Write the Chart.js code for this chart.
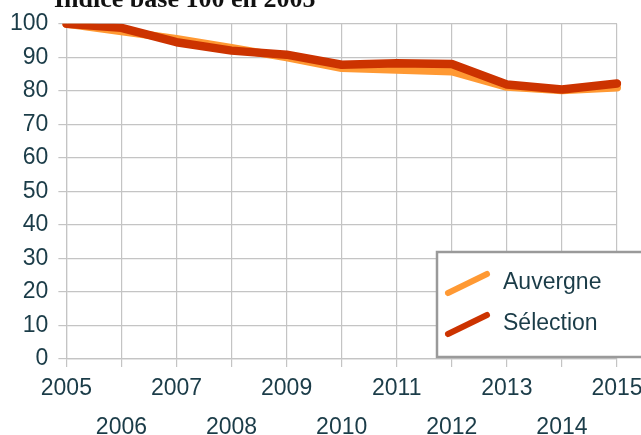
<!DOCTYPE html>
<html>
<head>
<meta charset="utf-8">
<script src="https://cdn.jsdelivr.net/npm/chart.js@4/dist/chart.umd.min.js"></script>
<style>
  html, body { margin: 0; padding: 0; background: #ffffff; }
  #wrap { width: 641px; height: 435px; position: relative; }
</style>
</head>
<body>
<div id="wrap"><canvas id="chart"></canvas></div>
<script>
// Chart text
const chartTitle = 'Indice base 100 en 2005';
const seriesNames = ['Auvergne', 'Sélection'];

// Years on the x axis
const years = ['2005', '2006', '2007', '2008', '2009', '2010', '2011', '2012', '2013', '2014', '2015'];

// Index values (base 100 in 2005)
const auvergne  = [100, 97.8, 95.5, 92.8, 90.0, 86.8, 86.3, 85.8, 81.2, 80.2, 81.0];
const selection = [100, 98.8, 94.5, 92.0, 90.8, 87.8, 88.2, 88.0, 81.9, 80.4, 82.2];

// Value axis range
const yMin = 0, yMax = 100, yStep = 10;

const colors = ['#ff9933', '#cc3300'];
const textColor = '#1b3c48';
const gridColor = '#c4c4c4';
const sansFont = "'Liberation Sans', Arial, sans-serif";

// Title drawn at the very top edge, partly clipped
const titlePlugin = {
  id: 'topTitle',
  afterDraw(chart) {
    const ctx = chart.ctx;
    ctx.save();
    ctx.font = "bold 26px 'Liberation Serif', 'Times New Roman', serif";
    ctx.fillStyle = '#111111';
    ctx.textAlign = 'left';
    ctx.textBaseline = 'alphabetic';
    ctx.fillText(chartTitle, 54, 7);
    ctx.restore();
  }
};

// Boxed legend with diagonal line samples in the lower right corner
const boxLegend = {
  id: 'boxLegend',
  afterDraw(chart) {
    const ctx = chart.ctx;
    const a = chart.chartArea;
    const left = a.right - 180, top = a.bottom - 107;
    ctx.save();
    ctx.fillStyle = '#ffffff';
    ctx.fillRect(left, top, 260, 105);
    ctx.strokeStyle = '#9a9a9a';
    ctx.lineWidth = 2.5;
    ctx.strokeRect(left, top, 260, 105);
    chart.data.datasets.forEach((ds, i) => {
      const cy = top + 31 + i * 41;
      ctx.strokeStyle = ds.borderColor;
      ctx.lineWidth = 6;
      ctx.lineCap = 'round';
      ctx.beginPath();
      ctx.moveTo(left + 11, cy + 10);
      ctx.lineTo(left + 50, cy - 9);
      ctx.stroke();
      ctx.fillStyle = textColor;
      ctx.font = '23px ' + sansFont;
      ctx.textAlign = 'left';
      ctx.textBaseline = 'middle';
      ctx.fillText(ds.label, left + 66, cy);
    });
    ctx.restore();
  }
};

new Chart(document.getElementById('chart'), {
  type: 'line',
  data: {
    labels: years,
    datasets: [
      { label: seriesNames[0], data: auvergne, borderColor: colors[0], backgroundColor: colors[0],
        borderWidth: 8, pointRadius: 0, tension: 0, borderJoinStyle: 'round', borderCapStyle: 'round', order: 2 },
      { label: seriesNames[1], data: selection, borderColor: colors[1], backgroundColor: colors[1],
        borderWidth: 8.5, pointRadius: 0, tension: 0, borderJoinStyle: 'round', borderCapStyle: 'round', order: 1 }
    ]
  },
  options: {
    responsive: true,
    maintainAspectRatio: false,
    animation: false,
    layout: { padding: { top: 11, right: 0, left: 0, bottom: 0 } },
    plugins: { legend: { display: false }, title: { display: false }, tooltip: { enabled: false } },
    scales: {
      x: {
        offset: false,
        grid: { color: gridColor, lineWidth: 1.2, tickLength: 8, tickColor: gridColor },
        border: { color: gridColor, width: 1.2 },
        afterFit(scale) { scale.height = 76; scale.paddingRight = 24; },
        ticks: {
          color: textColor,
          font: { family: sansFont, size: 23, lineHeight: 1.7 },
          padding: 2,
          maxRotation: 0,
          autoSkip: false,
          callback(value, index) {
            const y = this.getLabelForValue(value);
            return index % 2 === 0 ? [y, ''] : ['', y];
          }
        }
      },
      y: {
        min: yMin, max: yMax,
        grid: { color: gridColor, lineWidth: 1.2, tickLength: 8, tickColor: gridColor },
        border: { color: gridColor, width: 1.2 },
        ticks: {
          stepSize: yStep,
          color: textColor,
          font: { family: sansFont, size: 23 },
          padding: 10
        }
      }
    }
  },
  plugins: [titlePlugin, boxLegend]
});
</script>
</body>
</html>
